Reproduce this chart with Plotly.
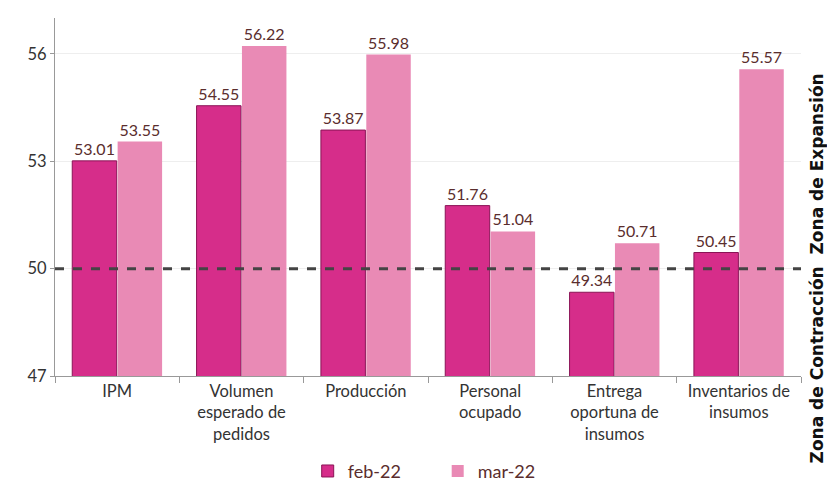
import plotly.graph_objects as go

categories = ["IPM", "Volumen<br>esperado de<br>pedidos", "Producción", "Personal<br>ocupado",
              "Entrega<br>oportuna de<br>insumos", "Inventarios de<br>insumos"]
feb_vals = [53.01, 54.55, 53.87, 51.76, 49.34, 50.45]
mar_vals = [53.55, 56.22, 55.98, 51.04, 50.71, 55.57]
series_names = ["feb-22", "mar-22"]
y_ticks = [47, 50, 53, 56]
threshold = 50

FONT = "Lato"
fig = go.Figure()
fig.add_trace(go.Bar(x=categories, y=feb_vals, name=series_names[0],
                     marker=dict(color="#D62D8A", line=dict(color="#8a1456", width=1)),
                     text=[f"{v:.2f}" for v in feb_vals], textposition="outside",
                     textfont=dict(color="#5a2d2d", size=16, family=FONT), cliponaxis=False))
fig.add_trace(go.Bar(x=categories, y=mar_vals, name=series_names[1],
                     marker=dict(color="#E98AB5", line=dict(width=0)),
                     text=[f"{v:.2f}" for v in mar_vals], textposition="outside",
                     textfont=dict(color="#5a2d2d", size=16, family=FONT), cliponaxis=False))

fig.add_shape(type="line", xref="paper", yref="y", x0=0, x1=1, y0=threshold, y1=threshold,
              line=dict(color="#444444", width=3, dash="dash"))

fig.add_annotation(text="<b>Zona de Contracción  Zona de Expansión</b>", textangle=-90,
                   xref="paper", yref="paper", x=1.022, y=0.46, xanchor="center", yanchor="middle",
                   showarrow=False, font=dict(size=17, color="#111111", family="DejaVu Sans"))

fig.update_layout(
    width=835, height=482,
    margin=dict(l=47, r=42, t=10, b=0),
    plot_bgcolor="white", paper_bgcolor="white",
    barmode="group", bargap=0.27, bargroupgap=0.02,
    font=dict(family=FONT, size=16, color="#333333"),
    legend=dict(orientation="h", x=0.513, xanchor="center", y=0.021, yanchor="middle",
                font=dict(size=18, color="#5a2d2d", family=FONT), itemwidth=30,
                traceorder="normal", entrywidthmode="pixels", entrywidth=85),
    xaxis=dict(showline=True, linecolor="#999999", linewidth=1, ticks="outside",
               tickson="boundaries", ticklen=6, tickcolor="#999999", automargin=False,
               tickfont=dict(size=16.5, color="#333333", family=FONT)),
    yaxis=dict(range=[47, 57], tickvals=y_ticks, showline=True, linecolor="#999999",
               linewidth=1, ticks="outside", ticklen=4, tickcolor="#999999",
               domain=[0.2267, 1], automargin=False,
               showgrid=True, gridcolor="#eeeeee", zeroline=False,
               tickfont=dict(size=16.5, color="#333333", family=FONT)),
)

fig.write_html("out.html")
